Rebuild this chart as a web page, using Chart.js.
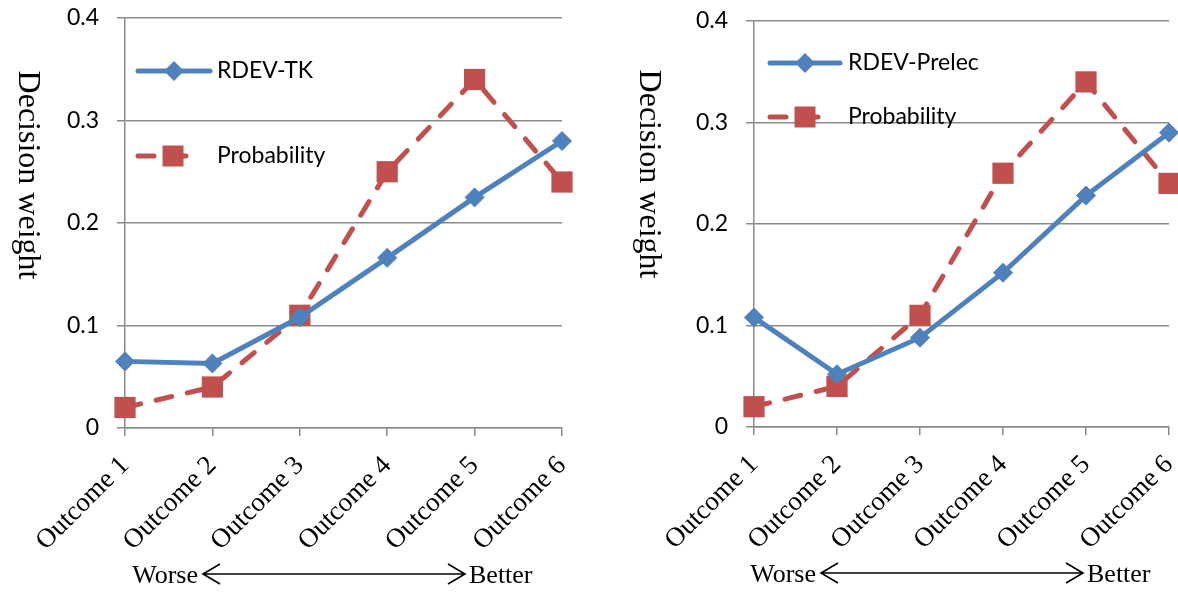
<!DOCTYPE html>
<html lang="en">
<head>
<meta charset="UTF-8">
<title>Decision weight</title>
<script src="https://cdn.jsdelivr.net/npm/chart.js"></script>
<style>
  body { margin: 0; background: #fff; }
  .panel { position: absolute; top: 0; height: 594px; }
  #left { left: 0; width: 600px; }
  #right { left: 600px; width: 578px; }
</style>
</head>
<body>
<div class="panel" id="left"><canvas id="chartTK" width="600" height="594"></canvas></div>
<div class="panel" id="right"><canvas id="chartPrelec" width="578" height="594"></canvas></div>

<script>
// data
var outcomes = ['Outcome 1', 'Outcome 2', 'Outcome 3', 'Outcome 4', 'Outcome 5', 'Outcome 6'];
var rdevTK = [0.065, 0.063, 0.108, 0.166, 0.225, 0.28];
var rdevPrelec = [0.108, 0.052, 0.088, 0.152, 0.228, 0.29];
var probability = [0.02, 0.04, 0.11, 0.25, 0.34, 0.24];
var yTicks = [0, 0.1, 0.2, 0.3, 0.4];

var BLUE = '#4F81BD';
var RED = '#C0504D';
var GRID = '#8a8a8a';
var SANS = 'Lato, "Open Sans", sans-serif';
var SERIF = '"Liberation Serif", "Times New Roman", serif';
var DASH = [16, 16];

// legend, axis title and the worse/better arrow are drawn by hand
function decorations(o) {
    return {
        id: 'decor',
        afterDatasetsDraw: function (chart) {
            var ctx = chart.ctx;
            ctx.save();
            o.legend.forEach(function (e) {
                ctx.strokeStyle = e.color;
                ctx.lineWidth = 5;
                ctx.lineCap = 'round';
                ctx.setLineDash(e.dash || []);
                ctx.beginPath();
                ctx.moveTo(e.x0, e.y);
                ctx.lineTo(e.x1, e.y);
                ctx.stroke();
                ctx.setLineDash([]);
                ctx.fillStyle = e.color;
                ctx.beginPath();
                if (e.shape === 'diamond') {
                    ctx.moveTo(e.mx, e.y - 10);
                    ctx.lineTo(e.mx + 10, e.y);
                    ctx.lineTo(e.mx, e.y + 10);
                    ctx.lineTo(e.mx - 10, e.y);
                    ctx.closePath();
                } else {
                    ctx.rect(e.mx - 10.5, e.y - 10.5, 21, 21);
                }
                ctx.fill();
                ctx.fillStyle = '#000';
                ctx.font = '23px ' + SANS;
                ctx.textAlign = 'left';
                ctx.textBaseline = 'middle';
                ctx.fillText(e.label, o.textX, e.y);
            });
            ctx.restore();
        },
        afterDraw: function (chart) {
            var ctx = chart.ctx;
            ctx.save();
            // axis title, reading top to bottom
            ctx.translate(o.titleX, o.titleY);
            ctx.rotate(Math.PI / 2);
            ctx.fillStyle = '#000';
            ctx.font = '32px ' + SERIF;
            ctx.textAlign = 'center';
            ctx.textBaseline = 'middle';
            ctx.fillText('Decision weight', 0, 0);
            ctx.restore();

            ctx.save();
            ctx.fillStyle = '#000';
            ctx.font = '26px ' + SERIF;
            ctx.textBaseline = 'alphabetic';
            ctx.textAlign = 'right';
            ctx.fillText('Worse', o.arrow.x0 - 5, o.arrow.base);
            ctx.textAlign = 'left';
            ctx.fillText('Better', o.arrow.x1 + 4, o.arrow.base);
            ctx.strokeStyle = '#000';
            ctx.lineWidth = 1.6;
            var y = o.arrow.y;
            ctx.beginPath();
            ctx.moveTo(o.arrow.x0, y);
            ctx.lineTo(o.arrow.x1, y);
            ctx.moveTo(o.arrow.x0 + 17, y - 10);
            ctx.lineTo(o.arrow.x0, y);
            ctx.lineTo(o.arrow.x0 + 17, y + 10);
            ctx.moveTo(o.arrow.x1 - 17, y - 10);
            ctx.lineTo(o.arrow.x1, y);
            ctx.lineTo(o.arrow.x1 - 17, y + 10);
            ctx.stroke();
            ctx.restore();
        }
    };
}

// drop the label overhang padding so the plot box is set by layout padding only
function noOverhang(s) {
    s.paddingTop = 0;
    s.paddingBottom = 0;
    s.paddingLeft = 0;
    s.paddingRight = 0;
}

function makeChart(id, name, values, o) {
    var ctx = document.getElementById(id).getContext('2d');
    return new Chart(ctx, {
        type: 'line',
        data: {
            labels: outcomes,
            datasets: [{
                label: name,
                data: values,
                borderColor: BLUE,
                backgroundColor: BLUE,
                borderWidth: 5,
                pointStyle: 'rectRot',
                pointRadius: 9.5,
                pointBorderWidth: 1,
                tension: 0,
                clip: false
            }, {
                label: 'Probability',
                data: probability,
                borderColor: RED,
                backgroundColor: RED,
                borderWidth: 5,
                borderDash: DASH,
                borderCapStyle: 'round',
                pointStyle: 'rect',
                pointRadius: 15,
                pointBorderWidth: 0,
                tension: 0,
                clip: false
            }]
        },
        options: {
            responsive: false,
            animation: false,
            layout: {
                autoPadding: false,
                padding: { left: 0, right: o.padRight, top: o.padTop, bottom: 0 }
            },
            plugins: { legend: { display: false }, tooltip: { enabled: false } },
            scales: {
                x: {
                    offset: false,
                    grid: { drawOnChartArea: false, drawTicks: true, tickLength: 8, color: GRID, lineWidth: 1.5 },
                    border: { color: GRID, width: 1.5 },
                    ticks: {
                        autoSkip: false,
                        minRotation: 45,
                        maxRotation: 45,
                        padding: 14,
                        color: '#000',
                        font: { family: SERIF, size: 27 }
                    },
                    afterFit: function (s) { s.height = o.xHeight; noOverhang(s); }
                },
                y: {
                    min: yTicks[0],
                    max: yTicks[yTicks.length - 1],
                    afterBuildTicks: function (s) {
                        s.ticks = yTicks.map(function (v) { return { value: v }; });
                    },
                    grid: { color: GRID, lineWidth: 1.5, tickLength: 8 },
                    border: { color: GRID, width: 1.5 },
                    ticks: {
                        padding: 18,
                        color: '#000',
                        font: { family: SANS, size: 23 },
                        callback: function (v) { return v === 0 ? '0' : v.toFixed(1); }
                    },
                    afterFit: function (s) { s.width = o.yWidth; noOverhang(s); }
                }
            }
        },
        plugins: [decorations(o)]
    });
}

makeChart('chartTK', 'RDEV-TK', rdevTK, {
    yWidth: 125, padRight: 38, padTop: 18, xHeight: 166,
    textX: 217,
    legend: [
        { label: 'RDEV-TK', color: BLUE, shape: 'diamond', y: 71, x0: 138, x1: 210, mx: 174 },
        { label: 'Probability', color: RED, shape: 'square', dash: DASH, y: 156, x0: 138, x1: 200, mx: 173 }
    ],
    titleX: 27, titleY: 175,
    arrow: { x0: 203, x1: 465, y: 574, base: 583 }
});

makeChart('chartPrelec', 'RDEV-Prelec', rdevPrelec, {
    yWidth: 154, padRight: 9, padTop: 21, xHeight: 167,
    textX: 248,
    legend: [
        { label: 'RDEV-Prelec', color: BLUE, shape: 'diamond', y: 63, x0: 170, x1: 240, mx: 205 },
        { label: 'Probability', color: RED, shape: 'square', dash: DASH, y: 117, x0: 170, x1: 232, mx: 205 }
    ],
    titleX: 48, titleY: 174,
    arrow: { x0: 221, x1: 483, y: 573, base: 582 }
});
</script>
</body>
</html>
